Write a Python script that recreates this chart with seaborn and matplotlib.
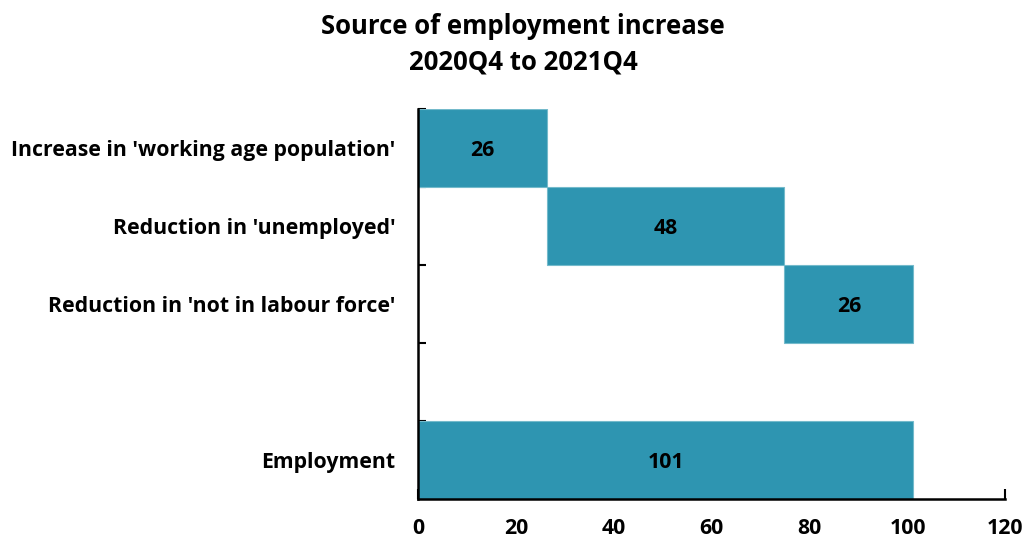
import matplotlib
matplotlib.use("Agg")
import matplotlib.pyplot as plt
import seaborn as sns
import pandas as pd
import numpy as np

# Waterfall components (percentage contribution to employment growth)
categories = ["Increase in 'working age population'",
              "Reduction in 'unemployed'",
              "Reduction in 'not in labour force'",
              "Employment"]
values = [26.4, 48.4, 26.4, 101.2]
is_total = [False, False, False, True]
row_order = [categories[0], categories[1], categories[2], " ", categories[3]]
x_ticks = [0, 20, 40, 60, 80, 100, 120]

# Running start for each step; the total bar starts at zero
starts = []
run = 0.0
for v, tot in zip(values, is_total):
    if tot:
        starts.append(0.0)
    else:
        starts.append(run)
        run += v

df = pd.DataFrame({"category": categories, "value": values, "start": starts})

sns.set_style("white")
plt.rcParams["font.family"] = ["Open Sans", "DejaVu Sans"]
plt.rcParams["font.weight"] = "bold"
for key in ["text.color", "axes.labelcolor", "xtick.color", "ytick.color"]:
    plt.rcParams[key] = "black"

fig = plt.figure(figsize=(10.26, 5.4), dpi=100)
ax = fig.add_axes([0.4075, 0.076, 0.5725, 0.722])

bar_color = "#2E95B1"
sns.barplot(data=df, x="value", y="category", order=row_order, orient="h",
            color=bar_color, saturation=1, width=1.0,
            edgecolor="#74BACB", linewidth=0.8,
            left=df["start"].to_numpy(), ax=ax)

fs = 15.3
for s, v, cat in zip(starts, values, categories):
    yi = row_order.index(cat)
    ax.text(s + v / 2, yi + 0.03, f"{v:.0f}", ha="center", va="center",
            fontsize=fs, fontweight="bold", color="black")

ax.set_xlim(0, 120)
ax.set_ylim(4.5, -0.5)
ax.set_xticks(x_ticks)
ax.set_xticklabels([str(t) for t in x_ticks], fontsize=fs, fontweight="bold")
ax.set_yticks(range(len(row_order)))
ax.set_yticklabels(row_order, fontsize=fs, fontweight="bold")
ax.set_yticks(np.arange(-0.5, 4.0, 1.0), minor=True)
ax.tick_params(axis="y", which="major", left=True, length=0, pad=16.5)
ax.tick_params(axis="y", which="minor", left=True, length=6, width=1.5,
               direction="in", color="black")
ax.tick_params(axis="x", which="major", bottom=True, length=7, width=1.5,
               direction="in", color="black", pad=13.5)
ax.set_xlabel("")
ax.set_ylabel("")

for side in ["top", "right"]:
    ax.spines[side].set_visible(False)
for side in ["left", "bottom"]:
    ax.spines[side].set_color("black")
    ax.spines[side].set_linewidth(1.8)

fig.text(0.51, 0.975, "Source of employment increase\n2020Q4 to 2021Q4",
         ha="center", va="top", fontsize=18.5, fontweight="bold",
         linespacing=1.4, color="black")

fig.savefig("out.png", dpi=100, facecolor="white")
